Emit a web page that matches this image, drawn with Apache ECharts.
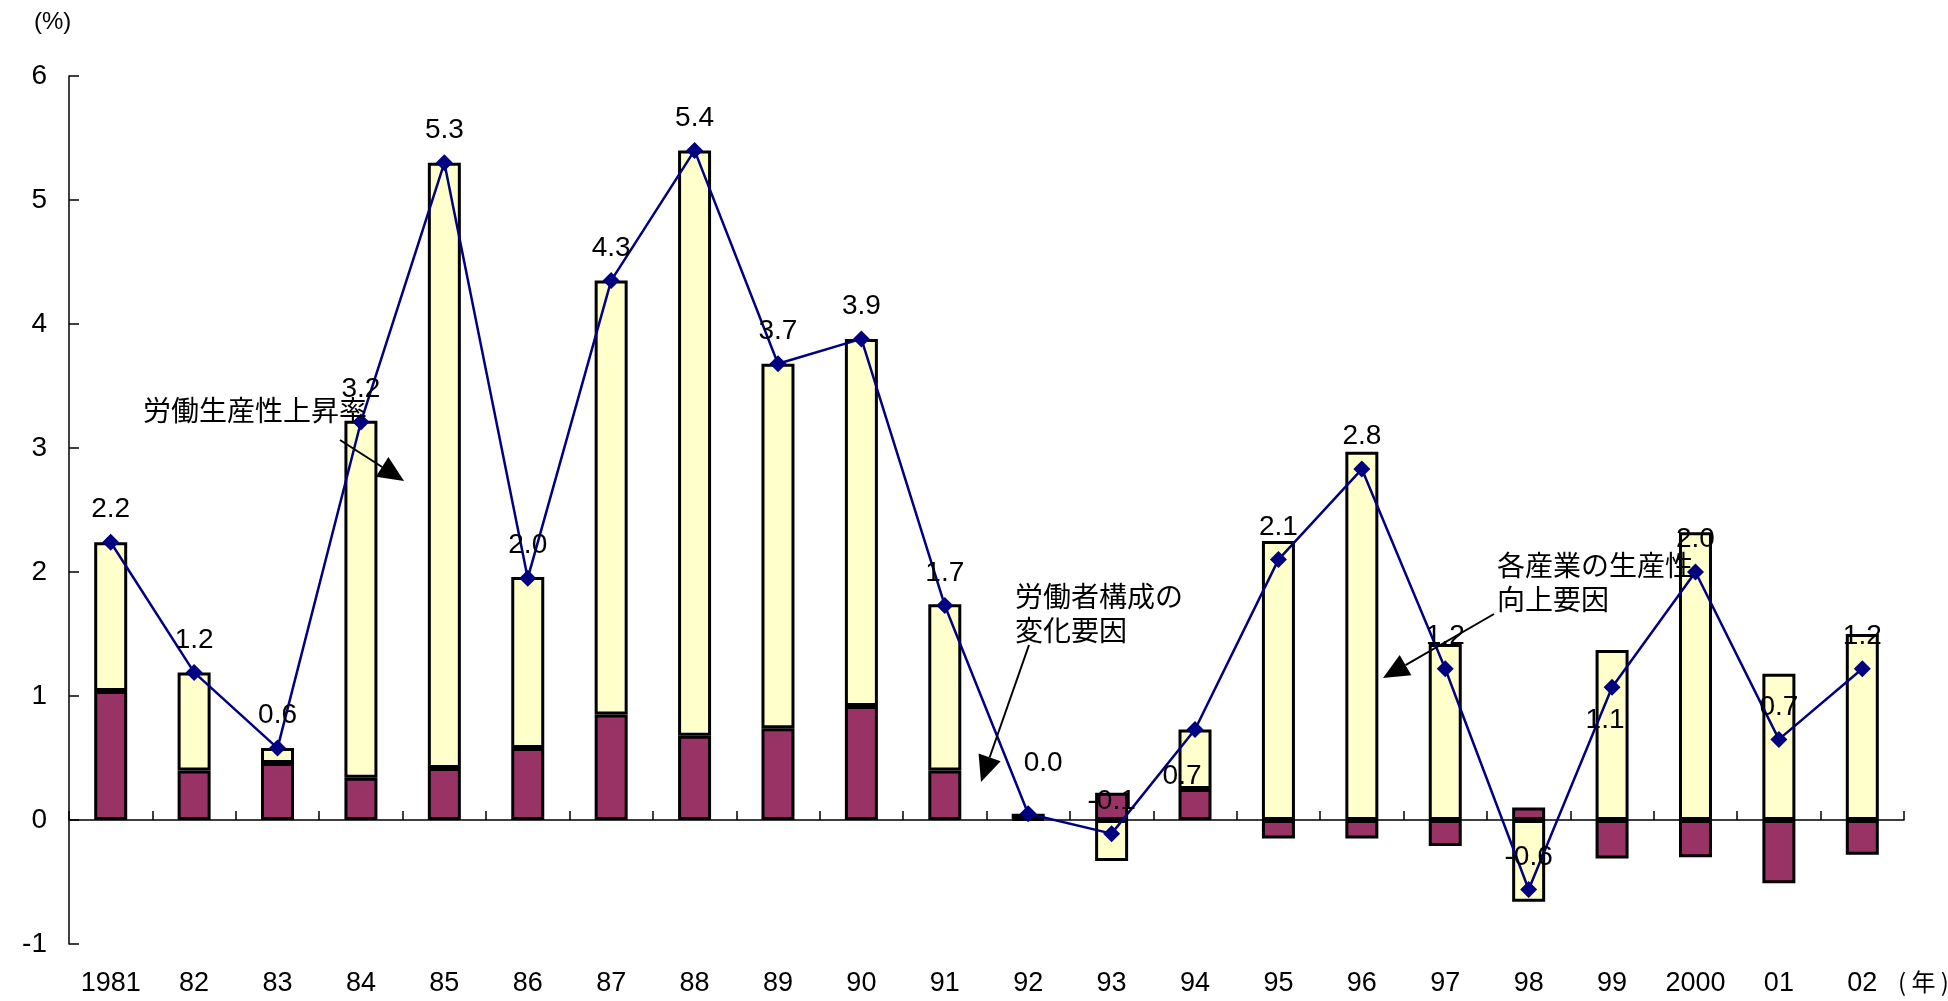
<!DOCTYPE html>
<html>
<head>
<meta charset="utf-8">
<script src="https://cdn.jsdelivr.net/npm/echarts@6/dist/echarts.min.js"></script>
<style>
  html, body { margin: 0; padding: 0; background: #fff; }
  #chart { width: 1948px; height: 1001px; }
</style>
</head>
<body>
<div id="chart"></div>
<script>
// 年
const years = ["1981", "82", "83", "84", "85", "86", "87", "88", "89", "90", "91",
  "92", "93", "94", "95", "96", "97", "98", "99", "2000", "01", "02"];
// 労働者構成の変化要因
const laborComposition = [1.04, 0.40, 0.46, 0.34, 0.42, 0.58, 0.85, 0.68, 0.74, 0.92, 0.40,
  0.01, 0.22, 0.25, -0.15, -0.15, -0.21, 0.10, -0.31, -0.30, -0.51, -0.28];
// 各産業の生産性向上要因
const industryProductivity = [1.20, 0.79, 0.12, 2.88, 4.88, 1.38, 3.50, 4.72, 2.94, 2.96, 1.34,
  0.04, -0.33, 0.48, 2.25, 2.97, 1.42, -0.66, 1.37, 2.32, 1.18, 1.50];
// 労働生産性上昇率
const productivityGrowth = [2.24, 1.19, 0.58, 3.21, 5.30, 1.95, 4.35, 5.40, 3.68, 3.88, 1.73,
  0.05, -0.11, 0.73, 2.10, 2.83, 1.22, -0.56, 1.07, 2.00, 0.65, 1.22];
const growthLabels = ["2.2", "1.2", "0.6", "3.2", "5.3", "2.0", "4.3", "5.4", "3.7", "3.9", "1.7",
  "0.0", "-0.1", "0.7", "2.1", "2.8", "1.2", "-0.6", "1.1", "2.0", "0.7", "1.2"];
const yTicks = [-1, 0, 1, 2, 3, 4, 5, 6];

const numFont = "'Liberation Sans', Arial, sans-serif";
const jpFont = "'Noto Sans CJK JP', sans-serif";

// 特別な位置のラベル
const labelTweaks = {
  11: { offset: [15, -18] },
  13: { position: "bottom", offset: [-13, 14] },
  18: { position: "bottom", offset: [-7, 0] }
};

function arrow(x1, y1, x2, y2, head) {
  const a = Math.atan2(y2 - y1, x2 - x1);
  const bx = x2 - head * Math.cos(a), by = y2 - head * Math.sin(a);
  const px = -Math.sin(a) * head * 0.45, py = Math.cos(a) * head * 0.45;
  return [
    { type: "line", shape: { x1: x1, y1: y1, x2: bx, y2: by }, style: { stroke: "#000", lineWidth: 2 }, z: 100 },
    { type: "polygon", shape: { points: [[x2, y2], [bx + px, by + py], [bx - px, by - py]] }, style: { fill: "#000" }, z: 100 }
  ];
}

function jpText(x, y, text) {
  return { type: "text", left: x, top: y - 15, z: 100,
    style: { text: text, font: "28px " + jpFont, fill: "#000" } };
}

const chart = echarts.init(document.getElementById("chart"));
const option = {
  backgroundColor: "#fff",
  animation: false,
  grid: { left: 69, right: 44, top: 76, bottom: 57 },
  xAxis: [
    {
      type: "category",
      data: years,
      position: "bottom",
      axisLine: { show: false, onZero: false },
      axisTick: { show: false },
      axisLabel: { margin: 26, color: "#000", fontSize: 27, fontFamily: numFont }
    },
    {
      type: "category",
      data: years,
      position: "bottom",
      axisLine: { show: true, onZero: true, lineStyle: { color: "#000", width: 1.5 } },
      axisTick: { show: true, inside: true, length: 9, lineStyle: { color: "#000", width: 1.5 } },
      axisLabel: { show: false }
    }
  ],
  yAxis: {
    type: "value",
    min: yTicks[0],
    max: yTicks[yTicks.length - 1],
    interval: 1,
    axisLine: { show: true, onZero: false, lineStyle: { color: "#000", width: 1.5 } },
    axisTick: { show: true, inside: true, length: 10, lineStyle: { color: "#000", width: 1.5 } },
    splitLine: { show: false },
    axisLabel: { margin: 22, color: "#000", fontSize: 28, fontFamily: numFont }
  },
  series: [
    {
      name: "労働者構成の変化要因",
      type: "bar",
      stack: "total",
      xAxisIndex: 0,
      barWidth: 33,
      itemStyle: { color: "#993366", borderColor: "#000", borderWidth: 3 },
      data: laborComposition
    },
    {
      name: "各産業の生産性向上要因",
      type: "bar",
      stack: "total",
      xAxisIndex: 0,
      barWidth: 33,
      itemStyle: { color: "#FFFFCC", borderColor: "#000", borderWidth: 3 },
      data: industryProductivity
    },
    {
      name: "労働生産性上昇率",
      type: "line",
      xAxisIndex: 0,
      z: 10,
      symbol: "diamond",
      symbolSize: 17,
      lineStyle: { color: "#000080", width: 2.5 },
      itemStyle: { color: "#000080" },
      label: {
        show: true,
        position: "top",
        distance: 10,
        color: "#000",
        fontSize: 28,
        fontFamily: numFont,
        formatter: function (p) { return growthLabels[p.dataIndex]; }
      },
      data: productivityGrowth.map(function (v, i) {
        return labelTweaks[i] ? { value: v, label: labelTweaks[i] } : v;
      })
    }
  ],
  graphic: [
    { type: "text", left: 34, top: 10, style: { text: "(%)", font: "24px " + numFont, fill: "#000" } },
    { type: "text", left: 1898, top: 970, style: { text: "( 年 )", font: "24px " + jpFont, fill: "#000" } },
    jpText(143, 411, "労働生産性上昇率"),
    jpText(1015, 597, "労働者構成の"),
    jpText(1015, 631, "変化要因"),
    jpText(1497, 566, "各産業の生産性"),
    jpText(1497, 600, "向上要因")
  ].concat(
    arrow(340, 440, 404, 481, 26),
    arrow(1029, 645, 981, 782, 26),
    arrow(1494, 614, 1383, 678, 26)
  )
};
chart.setOption(option);
</script>
</body>
</html>
